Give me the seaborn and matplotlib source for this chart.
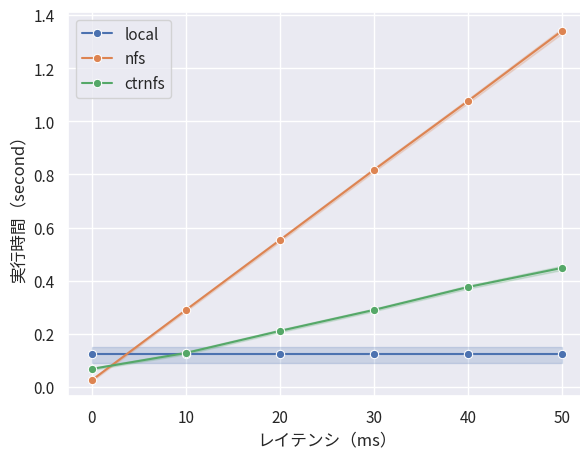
import matplotlib
matplotlib.use("Agg")
import matplotlib.pyplot as plt
import seaborn as sns
import pandas as pd

latency = [0, 10, 20, 30, 40, 50]
local_mean = [0.124, 0.124, 0.124, 0.124, 0.124, 0.124]
local_low = [0.092, 0.092, 0.092, 0.092, 0.092, 0.092]
local_high = [0.152, 0.152, 0.152, 0.152, 0.152, 0.152]
nfs_mean = [0.026, 0.290, 0.553, 0.817, 1.076, 1.340]
nfs_low = [0.022, 0.285, 0.547, 0.810, 1.068, 1.330]
nfs_high = [0.030, 0.295, 0.559, 0.824, 1.084, 1.350]
ctrnfs_mean = [0.068, 0.128, 0.211, 0.290, 0.376, 0.448]
ctrnfs_low = [0.064, 0.123, 0.206, 0.285, 0.370, 0.440]
ctrnfs_high = [0.072, 0.133, 0.216, 0.295, 0.382, 0.456]
series = ["local", "nfs", "ctrnfs"]

sns.set_theme(style="darkgrid")
plt.rcParams['font.family'] = ['Noto Sans CJK JP', 'DejaVu Sans']

rows = []
for name, m in zip(series, [local_mean, nfs_mean, ctrnfs_mean]):
    for x, v in zip(latency, m):
        rows.append({"latency": x, "time": v, "fs": name})
df = pd.DataFrame(rows)

fig = plt.figure(figsize=(5.8, 4.52), dpi=100)
ax = fig.add_axes([68/580, 55/452, 518/580, 384/452])
palette = sns.color_palette()[:3]
sns.lineplot(data=df, x="latency", y="time", hue="fs", marker="o",
             palette=palette, errorbar=None, ax=ax)
for c, lo, hi in zip(palette, [local_low, nfs_low, ctrnfs_low],
                     [local_high, nfs_high, ctrnfs_high]):
    ax.fill_between(latency, lo, hi, color=c, alpha=0.2)

ax.set_ylim(-0.034, 1.411)
ax.set_xlim(-2.55, 52.55)
ax.set_xticks([0, 10, 20, 30, 40, 50])
ax.set_yticks([0.0, 0.2, 0.4, 0.6, 0.8, 1.0, 1.2, 1.4])
ax.set_xlabel("レイテンシ（ms）")
ax.set_ylabel("実行時間（second）")
ax.legend(loc="upper left", title=None)
fig.savefig("out.png", dpi=100)
